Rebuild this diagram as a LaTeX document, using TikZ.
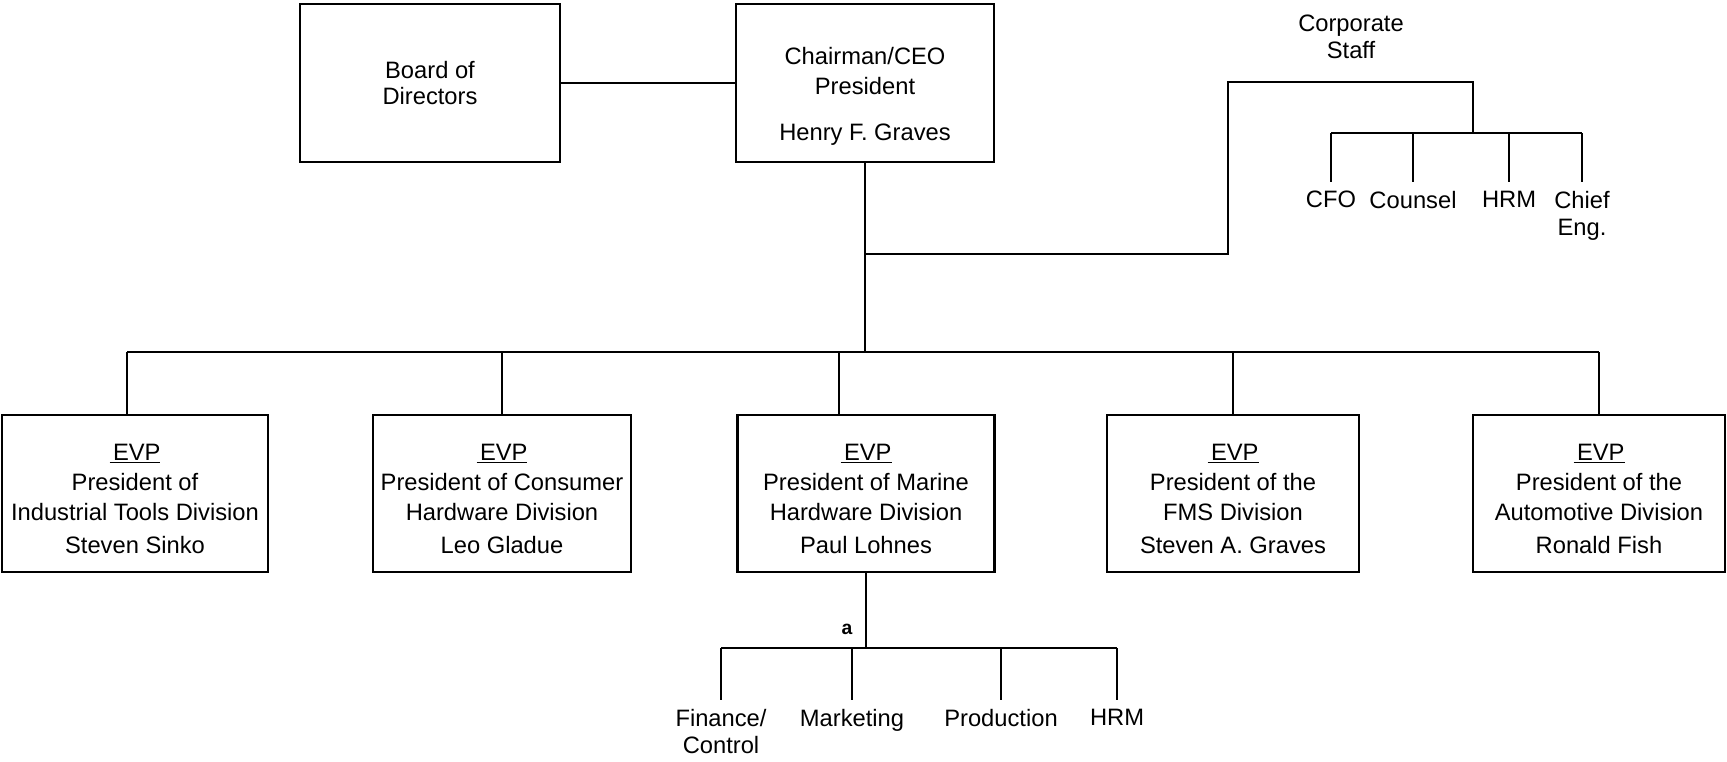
\documentclass[tikz,border=0pt]{standalone}
\usepackage{fontspec}
\setmainfont{Liberation Sans}
\usetikzlibrary{positioning}
\newcommand{\evp}{\rule{0pt}{15.4pt}\underline{\hspace{2pt}EVP}}

\begin{document}
\begin{tikzpicture}
    [
    x=0.2mm, y=-0.2mm,
    line width=1.5pt,
    box/.style={draw,rectangle,align=center,inner sep=0pt,minimum height=31.6mm,font=\fontsize{13.5}{17}\selectfont},
    division/.style={box,minimum height=31.4mm},
    staff/.style={align=center,anchor=north,inner sep=4.5pt,font=\fontsize{13.5}{15.5}\selectfont},
    note/.style={inner sep=0pt,font=\fontsize{11}{13}\bfseries\selectfont}
    ]
    \useasboundingbox (0,0) rectangle (1727,761);
    % top
    \node (board) at (430,83) [box,minimum width=52mm] {Board of\\[-2pt]Directors};
    \node (ceo) at (865,83) [box,minimum width=51.6mm] {\rule{0pt}{24.7pt}Chairman/CEO\\President\\[9pt]Henry F. Graves};
    % corporate staff
    \node (corp) at (1351,37) [staff,anchor=center,inner sep=0pt] {Corporate\\Staff};
    \node (cfo) at (1331,182) [staff] {CFO};
    \node (counsel) at (1413,182) [staff] {Counsel};
    \node (hrm) at (1509,182) [staff] {HRM};
    \node (chief) at (1582,182) [staff] {Chief\\Eng.};
    % divisions
    \node (evp1) at (135,493.5) [division,minimum width=53.2mm] {\evp\\President of\\Industrial Tools Division\\[2pt]Steven Sinko};
    \node (evp2) at (502,493.5) [division,minimum width=51.6mm] {\evp\\President of Consumer\\Hardware Division\\[2pt]Leo Gladue};
    \node (evp3) at (866,493.5) [division,minimum width=51.4mm] {\evp\\President of Marine\\Hardware Division\\[2pt]Paul Lohnes};
    \node (evp4) at (1233,493.5) [division,minimum width=50.4mm] {\evp\\President of the\\FMS Division\\[2pt]Steven A. Graves};
    \node (evp5) at (1599,493.5) [division,minimum width=50.4mm] {\evp\\President of the\\Automotive Division\\[2pt]Ronald Fish};
    % marine hardware departments
    \node (a) at (847,629) [note] {a};
    \node (fin) at (721,700) [staff] {Finance/\\Control};
    \node (mkt) at (852,700) [staff] {Marketing};
    \node (prod) at (1001,700) [staff] {Production};
    \node (hrmdiv) at (1117,700) [staff] {HRM};

    \coordinate (mainbus) at (0,352);
    \coordinate (staffjoin) at (0,254);
    \coordinate (staffcorner) at (1228,82);
    \coordinate (staffbus) at (1473,133);
    \coordinate (subbus) at (0,648);
    \coordinate (drop1) at ([xshift=-1.6mm]evp1.north);
    \coordinate (drop3) at ([xshift=-5.4mm]evp3.north);

    \draw (board) -- (ceo);
    \draw (ceo.south) -- (ceo.south |- mainbus);
    \draw (ceo.south |- staffjoin) -| (staffcorner) -| (staffbus);
    \draw (cfo.north |- staffbus) -- (chief.north |- staffbus);
    \draw (cfo.north |- staffbus) -- (cfo.north);
    \draw (counsel.north |- staffbus) -- (counsel.north);
    \draw (hrm.north |- staffbus) -- (hrm.north);
    \draw (chief.north |- staffbus) -- (chief.north);

    \draw (drop1 |- mainbus) -- (evp5.north |- mainbus);
    \draw (drop1 |- mainbus) -- (drop1);
    \draw (evp2.north |- mainbus) -- (evp2.north);
    \draw (drop3 |- mainbus) -- (drop3);
    \draw (evp4.north |- mainbus) -- (evp4.north);
    \draw (evp5.north |- mainbus) -- (evp5.north);

    \draw (evp3.south) -- (evp3.south |- subbus);
    \draw (fin.north |- subbus) -- (hrmdiv.north |- subbus);
    \draw (fin.north |- subbus) -- (fin.north);
    \draw (mkt.north |- subbus) -- (mkt.north);
    \draw (prod.north |- subbus) -- (prod.north);
    \draw (hrmdiv.north |- subbus) -- (hrmdiv.north);
  \end{tikzpicture}
\end{document}
